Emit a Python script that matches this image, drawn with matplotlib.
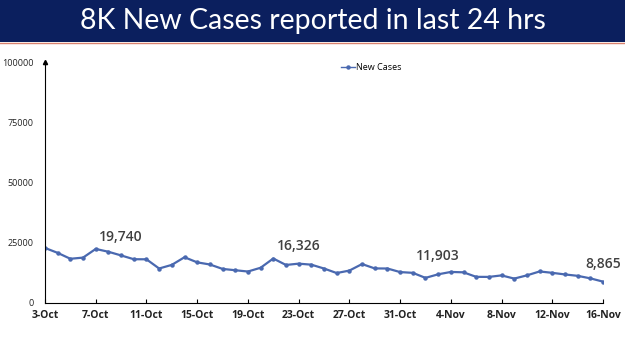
import matplotlib.pyplot as plt
import numpy as np
from datetime import date, timedelta

# daily new cases, 3-Oct to 16-Nov
new_cases = [22842, 20799, 18346, 18833, 22431, 21257, 19740, 18166, 18132, 14313,
             15823, 18987, 16862, 15981, 14146, 13596, 13058, 14623, 18454, 15786,
             16326, 15906, 14306, 12428, 13451, 16156, 14348, 14313, 12830, 12514,
             10423, 11903, 12885, 12729, 10853, 10826, 11451, 10126, 11466, 13091,
             12516, 11850, 11271, 10229, 8865]
start = date(2021, 10, 3)
days = [start + timedelta(days=i) for i in range(len(new_cases))]
day_labels = [f"{d.day}-{d.strftime('%b')}" for d in days]
labelled_idx = [6, 20, 31, 44]
y_ticks = [0, 25000, 50000, 75000, 100000]

plt.rcParams['font.family'] = ['Open Sans', 'DejaVu Sans']

fig = plt.figure(figsize=(6.25, 3.51), dpi=100)

# title banner
ban = fig.add_axes([0, 1 - 42/351, 1, 42/351])
ban.set_facecolor('#0b1f5e')
ban.set_xticks([]); ban.set_yticks([])
for s in ban.spines.values():
    s.set_visible(False)
ban.text(0.5, 0.5, '8K New Cases reported in last 24 hrs', color='white',
         fontsize=20.5, ha='center', va='center', family=['Lato', 'DejaVu Sans'])
fig.add_artist(plt.Line2D([0, 1], [1 - 43/351, 1 - 43/351], color='#d9826e', lw=1))

ax = fig.add_axes([45/625, 1 - 303/351, (603 - 45)/625, (303 - 62)/351])
x = np.arange(len(new_cases))
ax.plot(x, new_cases, color='#4a69b0', lw=1.6, marker='o', ms=2.2, label='New Cases')
for i in labelled_idx:
    ax.annotate(f"{new_cases[i]:,}", (x[i], new_cases[i]), xytext=(0, 8),
                textcoords='offset points', ha='center', va='bottom',
                fontsize=10, fontweight='semibold', color='#404040')

ax.set_xlim(0, len(new_cases) - 1)
ax.set_ylim(0, 100000)
ax.set_yticks(y_ticks)
ax.set_yticklabels([str(v) for v in y_ticks], fontsize=6.5, color='#222222')
ax.set_xticks(x[::4])
ax.set_xticklabels(day_labels[::4], fontsize=7.5, fontweight='bold', color='#222222')
ax.tick_params(axis='x', direction='in', length=3, pad=5)
ax.tick_params(axis='y', length=0, pad=8)
ax.spines['top'].set_visible(False)
ax.spines['right'].set_visible(False)
ax.plot(0, 1, '^k', ms=3, transform=ax.transAxes, clip_on=False)
leg = ax.legend(loc='upper center', bbox_to_anchor=(0.585, 1.03), frameon=False,
                fontsize=6.5, handlelength=1.5, handletextpad=0.2)
for h in leg.get_lines():
    h.set_linewidth(1.0)

fig.savefig('out.png', dpi=100)
